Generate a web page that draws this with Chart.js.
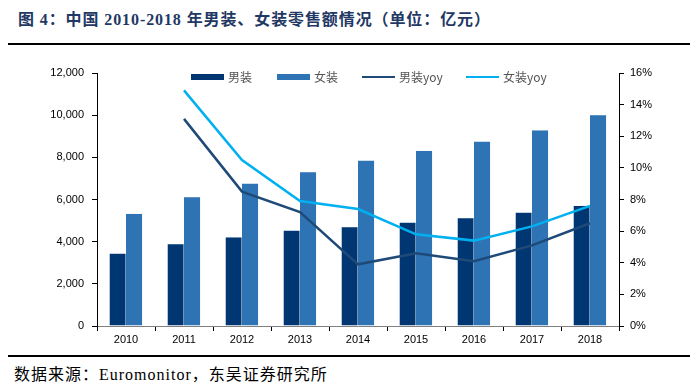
<!DOCTYPE html>
<html>
<head>
<meta charset="utf-8">
<script src="https://cdn.jsdelivr.net/npm/chart.js@4.4.0/dist/chart.umd.min.js"></script>
<style>
  body { margin: 0; width: 700px; height: 387px; background: #fff; position: relative; overflow: hidden; }
  #title { position: absolute; left: 18px; top: 6px; font: bold 16px "Liberation Serif", "Noto Sans CJK SC"; letter-spacing: 0.9px; color: #1F3864; white-space: nowrap; }
  .rule { position: absolute; left: 8px; width: 682px; height: 2px; background: #000; }
  #foot { position: absolute; left: 14px; top: 361px; font: 16px "Liberation Serif", "Noto Sans CJK SC"; letter-spacing: 1px; color: #000; white-space: nowrap; }
  #wrap { position: absolute; left: 0; top: 50px; width: 700px; height: 300px; }
</style>
</head>
<body>
<div id="title">图 4：中国 2010-2018 年男装、女装零售额情况（单位：亿元）</div>
<div class="rule" style="top:43px"></div>
<div id="wrap"><canvas id="c"></canvas></div>
<div class="rule" style="top:355px"></div>
<div id="foot">数据来源：Euromonitor，东吴证券研究所</div>
<script>
const years = ['2010', '2011', '2012', '2013', '2014', '2015', '2016', '2017', '2018'];
const menSales = [3450, 3905, 4220, 4540, 4710, 4920, 5140, 5390, 5720];
const womenSales = [5340, 6130, 6770, 7320, 7860, 8320, 8760, 9300, 10020];
const menYoy = [null, 13.1, 8.5, 7.2, 3.9, 4.6, 4.1, 5.1, 6.5];
const womenYoy = [null, 14.9, 10.5, 7.9, 7.4, 5.8, 5.4, 6.3, 7.6];

const tickFont = { family: 'Arial, "Liberation Sans"', size: 11 };

// legend drawn inside the plot, as in the reference
const legendPlugin = {
  id: 'inlegend',
  afterDraw(chart) {
    const { ctx } = chart;
    const items = [
      { x: 191, text: '男装', ds: 0, bar: true },
      { x: 277, text: '女装', ds: 1, bar: true },
      { x: 362, text: '男装yoy', ds: 2, bar: false },
      { x: 466, text: '女装yoy', ds: 3, bar: false }
    ];
    const y = 27;
    ctx.save();
    ctx.font = '12px "Noto Sans CJK SC", "Liberation Sans"';
    ctx.textBaseline = 'middle';
    items.forEach(it => {
      const ds = chart.data.datasets[it.ds];
      if (it.bar) {
        ctx.fillStyle = ds.backgroundColor;
        ctx.fillRect(it.x, y - 3, 33, 6);
      } else {
        ctx.strokeStyle = ds.borderColor;
        ctx.lineWidth = 2;
        ctx.beginPath();
        ctx.moveTo(it.x, y);
        ctx.lineTo(it.x + 33, y);
        ctx.stroke();
      }
      ctx.fillStyle = '#555';
      ctx.fillText(it.text, it.x + 37, y);
    });
    ctx.restore();
  }
};

new Chart(document.getElementById('c'), {
  data: {
    labels: years,
    datasets: [
      { type: 'bar', label: '男装', data: menSales, backgroundColor: '#003773', borderColor: '#d9e2ef', borderWidth: { left: 0, right: 0.5, top: 0.5 }, yAxisID: 'y', order: 2 },
      { type: 'bar', label: '女装', data: womenSales, backgroundColor: '#2E74B5', borderColor: '#d9e2ef', borderWidth: { left: 0, right: 0.5, top: 0.5 }, yAxisID: 'y', order: 2 },
      { type: 'line', label: '男装yoy', data: menYoy, borderColor: '#1F4A78', borderWidth: 2.5, pointRadius: 0, tension: 0, yAxisID: 'y1', order: 1 },
      { type: 'line', label: '女装yoy', data: womenYoy, borderColor: '#00B0F0', borderWidth: 2.5, pointRadius: 0, tension: 0, yAxisID: 'y1', order: 0 }
    ]
  },
  options: {
    animation: false,
    responsive: true,
    maintainAspectRatio: false,
    layout: { padding: { top: 23, bottom: 0, left: 0, right: 0 } },
    datasets: { bar: { categoryPercentage: 0.57, barPercentage: 1 } },
    plugins: { legend: { display: false }, tooltip: { enabled: false } },
    scales: {
      x: {
        grid: { display: true, drawOnChartArea: false, offset: true, color: '#000', tickLength: 5 },
        border: { color: '#808080', width: 1 },
        ticks: { color: '#000', font: tickFont, maxRotation: 0, padding: 2 },
        afterFit(s) { s.height = 24; }
      },
      y: {
        position: 'left',
        min: 0, max: 12000,
        grid: { display: true, drawOnChartArea: false, color: '#000', tickLength: 5 },
        border: { color: '#000', width: 1 },
        ticks: { stepSize: 2000, color: '#000', font: tickFont, padding: 8,
          callback: v => v.toLocaleString('en-US') },
        afterFit(s) { s.width = 97; }
      },
      y1: {
        position: 'right',
        min: 0, max: 16,
        grid: { display: true, drawOnChartArea: false, color: '#000', tickLength: 5 },
        border: { color: '#000', width: 1 },
        ticks: { stepSize: 2, color: '#000', font: tickFont, padding: 6,
          callback: v => v + '%' },
        afterFit(s) { s.width = 81; }
      }
    }
  },
  plugins: [legendPlugin]
});
</script>
</body>
</html>
